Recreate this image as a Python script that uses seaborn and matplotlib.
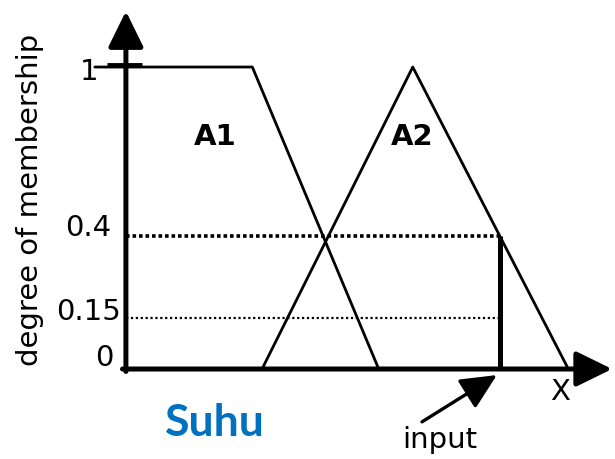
import seaborn as sns
import numpy as np
import matplotlib.pyplot as plt

# membership functions (x universe 0..100, membership 0..1)
a1_x = [-6.4, 26, 52]
a1_mu = [1, 1, 0]
a2_x = [28, 59, 91]
a2_mu = [0, 1, 0]
x_input = 77
mu_input = 0.44
mu_low = 0.17
tick_labels = ["1", "0.4", "0.15", "0"]

sns.set_style("white")
plt.rcParams["text.color"] = "black"
fig = plt.figure(figsize=(6.15, 4.59), dpi=100)
ax = fig.add_axes([0, 0, 1, 1])
ax.set_xlim(-25.9, 100.6)
ax.set_ylim(-0.298, 1.222)
ax.axis("off")

# membership curves
sns.lineplot(x=a1_x, y=a1_mu, color="k", lw=2, estimator=None, sort=False, ax=ax)
sns.lineplot(x=a2_x, y=a2_mu, color="k", lw=2, estimator=None, sort=False, ax=ax)

# input level lines
ax.plot([0, x_input], [mu_input, mu_input], color="k", lw=2.6, ls=(0, (1, 0.8)))
ax.plot([0, x_input], [mu_low, mu_low], color="k", lw=1.6, ls=(0, (1, 1.2)))
ax.plot([x_input, x_input], [0, mu_input], color="k", lw=3.6, solid_capstyle="butt")

# axes with arrows
ax.annotate("", xy=(0, 1.185), xytext=(0, -0.008),
            arrowprops=dict(arrowstyle="-|>,head_length=0.55,head_width=0.27",
                            mutation_scale=40, lw=3.6, color="k", shrinkA=0, shrinkB=0))
ax.annotate("", xy=(100, 0), xytext=(-0.7, 0),
            arrowprops=dict(arrowstyle="-|>,head_length=0.55,head_width=0.27",
                            mutation_scale=40, lw=3.6, color="k", shrinkA=0, shrinkB=0))
ax.plot([-3.9, 3.3], [1.007, 1.007], color="k", lw=3.5, solid_capstyle="butt")

# input pointer
ax.annotate("", xy=(76.3, -0.02), xytext=(60.9, -0.175),
            arrowprops=dict(arrowstyle="-|>,head_length=0.55,head_width=0.26",
                            mutation_scale=40, lw=2.4, color="k", shrinkA=0, shrinkB=0))

fs = 21
ax.text(-5.6, 0.983, tick_labels[0], ha="right", va="center", fontsize=fs)
ax.text(-3.0, 0.467, tick_labels[1], ha="right", va="center", fontsize=fs)
ax.text(-1.0, 0.189, tick_labels[2], ha="right", va="center", fontsize=fs)
ax.text(-2.6, 0.036, tick_labels[3], ha="right", va="center", fontsize=fs)

ax.text(-19.75, 0.56, "degree of membership", rotation=90, ha="center", va="center", fontsize=fs)
ax.text(18.3, 0.768, "A1", ha="center", va="center", fontsize=fs, fontweight="bold")
ax.text(58.8, 0.768, "A2", ha="center", va="center", fontsize=fs, fontweight="bold")
ax.text(89.3, -0.076, "X", ha="center", va="center", fontsize=fs)
ax.text(64.6, -0.235, "input", ha="center", va="center", fontsize=fs)
ax.text(18.3, -0.179, "Suhu", ha="center", va="center", fontsize=32,
        fontweight="bold", color="#0070C0", family=["Lato", "DejaVu Sans"])

fig.savefig("out.png", dpi=100)
